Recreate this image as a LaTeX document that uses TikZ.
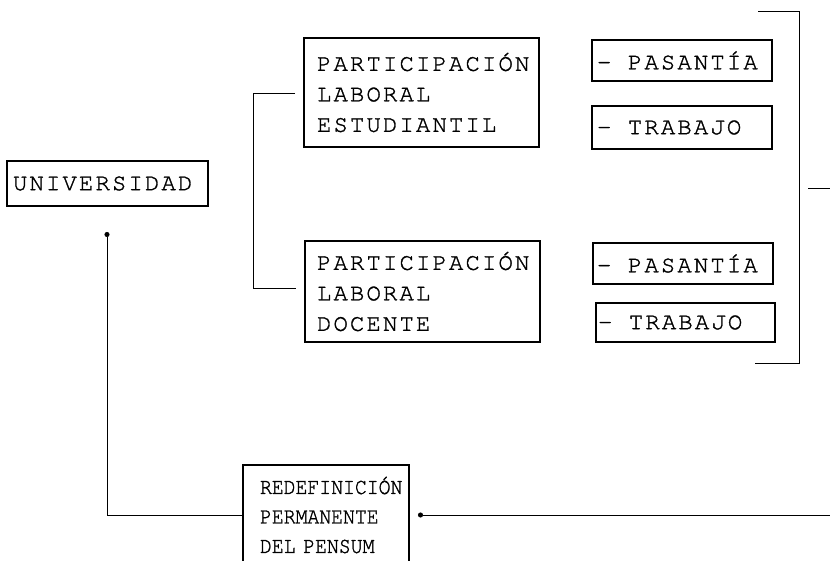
\documentclass[tikz,border=0pt]{standalone}
\usepackage{fontspec}
\newfontfamily\tw{texgyrecursor-regular}[Extension=.otf,LetterSpace=8.75,FakeBold=1.3]
\newfontfamily\twn{texgyrecursor-regular}[Extension=.otf,FakeStretch=0.86,FakeBold=1.3]
\newcommand{\tsp}{\hspace*{16.5pt}}
\usetikzlibrary{arrows.meta,calc}
\begin{document}
\begin{tikzpicture}[x=1pt,y=-1pt,
  box/.style={draw,line width=1.6pt,rectangle,inner ysep=0pt,align=left,
    font=\tw\fontsize{24}{30.5}\selectfont,anchor=center},
  conn/.style={line width=0.9pt},
  dotend/.style={conn,-{Circle[length=5pt,width=5pt]}}]
\useasboundingbox (0,0) rectangle (830,561);
\clip (0,0) rectangle (830,561);
\fill[white] (0,0) rectangle (830,561);
% boxes
\node[box,minimum height=45pt,inner xsep=6pt,text width=189pt] (univ) at (107.5,183.5) {UNIVERSIDAD};
\node[box,minimum height=109pt,inner xsep=13pt,text width=209pt] (ple) at (421.5,92.5) {PARTICIPACIÓN\\LABORAL\\ESTUDIANTIL};
\node[box,minimum height=101pt,inner xsep=12pt,text width=211pt] (pld) at (422.5,291.5) {PARTICIPACIÓN\\LABORAL\\DOCENTE};
\node[box,minimum height=41pt,inner xsep=5pt,text width=170pt] (pas1) at (682,60.5) {-\tsp PASANTÍA};
\node[box,minimum height=43pt,inner xsep=5pt,text width=170pt] (tra1) at (682,127.5) {-\tsp TRABAJO};
\node[box,minimum height=41pt,inner xsep=4pt,text width=172pt] (pas2) at (683,263.5) {-\tsp PASANTÍA};
\node[box,minimum height=39pt,inner xsep=2pt,text width=175pt] (tra2) at (685.5,322.5) {-\tsp TRABAJO};
\node[box,minimum height=100pt,inner xsep=17pt,text width=132pt,
  font=\twn\fontsize{23}{29.5}\selectfont] (red) at (326,515) {REDEFINICIÓN\\PERMANENTE\\DEL PENSUM};
% named free ends
\coordinate (la) at (295,93);
\coordinate (lb) at (296,288);
\coordinate (lx) at (253,0);
\coordinate (ra) at (758,11);
\coordinate (rb) at (755,363);
\coordinate (rx) at (799,0);
\coordinate (t1) at (808,188);
\coordinate (t2) at (830,188);
\coordinate (ud) at (107,232);
\coordinate (rr) at (830,515);
\coordinate (rd) at (418,515);
% connectors
\draw[conn] (la) -- (la -| lx) -- (lb -| lx) -- (lb);
\draw[conn] (ra) -- (ra -| rx) -- (rb -| rx) -- (rb);
\draw[conn] (t1) -- (t2);
\draw[dotend] (red.west) -| (ud);
\draw[dotend] (rr) -- (rd);
\end{tikzpicture}
\end{document}
